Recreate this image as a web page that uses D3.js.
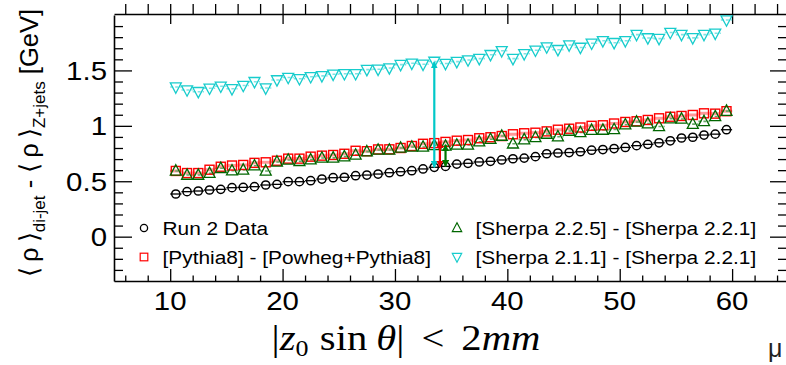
<!DOCTYPE html>
<html><head><meta charset="utf-8">
<script src="https://cdn.jsdelivr.net/npm/d3@7"></script>
<style>body{margin:0;background:#fff} svg{display:block}</style>
</head><body>
<svg id="c" width="786" height="365"></svg>
<script>
// ---- data ----
const xValues = [10.5,11.5,12.5,13.5,14.5,15.5,16.5,17.5,18.5,19.5,
  20.5,21.5,22.5,23.5,24.5,25.5,26.5,27.5,28.5,29.5,
  30.5,31.5,32.5,33.5,34.5,35.5,36.5,37.5,38.5,39.5,
  40.5,41.5,42.5,43.5,44.5,45.5,46.5,47.5,48.5,49.5,
  50.5,51.5,52.5,53.5,54.5,55.5,56.5,57.5,58.5,59.5];
const runData = [0.385,0.406,0.412,0.421,0.427,0.442,0.445,0.451,0.466,0.472,
  0.496,0.496,0.505,0.520,0.532,0.536,0.550,0.556,0.565,0.577,
  0.586,0.595,0.611,0.626,0.634,0.655,0.662,0.674,0.680,0.692,
  0.703,0.709,0.722,0.748,0.755,0.759,0.766,0.780,0.786,0.795,
  0.805,0.821,0.833,0.847,0.865,0.890,0.897,0.917,0.925,0.965];
const pythiaDiff = [0.593,0.574,0.574,0.604,0.631,0.642,0.647,0.666,0.671,0.685,
  0.704,0.704,0.722,0.731,0.737,0.748,0.775,0.771,0.787,0.788,
  0.800,0.818,0.838,0.844,0.855,0.866,0.872,0.888,0.897,0.908,
  0.924,0.933,0.938,0.950,0.965,0.974,0.985,1.000,1.005,1.021,
  1.035,1.041,1.053,1.068,1.082,1.089,1.098,1.113,1.110,1.132];
const sherpa225Diff = [0.593,0.556,0.556,0.572,0.617,0.595,0.602,0.640,0.593,0.674,
  0.692,0.680,0.695,0.710,0.711,0.722,0.737,0.767,0.782,0.782,
  0.800,0.809,0.809,0.824,0.818,0.827,0.827,0.857,0.879,0.908,
  0.838,0.876,0.895,0.926,0.902,0.953,0.940,0.961,0.962,0.967,
  1.010,1.035,1.020,0.994,1.065,1.062,1.015,1.040,1.084,1.133];
const sherpa211Diff = [1.350,1.323,1.308,1.339,1.357,1.334,1.364,1.398,1.341,1.414,
  1.436,1.425,1.443,1.451,1.465,1.470,1.470,1.507,1.510,1.522,
  1.552,1.564,1.555,1.581,1.562,1.579,1.594,1.606,1.642,1.677,
  1.606,1.650,1.682,1.711,1.687,1.729,1.707,1.745,1.767,1.750,
  1.767,1.823,1.793,1.787,1.842,1.823,1.794,1.823,1.835,1.955];
// annotation arrows: x position, lower value, upper value
const arrowX = [33.5, 34.0, 34.5];
const arrowLow = [0.626, 0.629, 0.634];
const arrowHigh = [1.575, 0.857, 0.830];
const xTicks = [10,20,30,40,50,60];
const yTicks = [0,0.5,1,1.5];
const yTickLabels = ["0","0.5","1","1.5"];
const legendLabels = ["Run 2 Data","[Pythia8] - [Powheg+Pythia8]",
  "[Sherpa 2.2.5] - [Sherpa 2.2.1]","[Sherpa 2.1.1] - [Sherpa 2.2.1]"];

// ---- setup ----
const svg = d3.select("#c");
const x = d3.scaleLinear().domain([5,65]).range([114,788.3]);
const y = d3.scaleLinear().domain([-0.4,2.0]).range([281,15]);
const SANS = "'Liberation Sans', Arial, Helvetica, sans-serif";
const SX = 1.11;

const col = {black:"#000", red:"#ff0000", green:"#006600", cyan:"#17cccc"};
const bar = {black:"#000", red:"#ff9a9a", green:"#66aa66", cyan:"#7fe3e3"};

function sText(g, px, py, str, size, anchor){
  return g.append("text")
    .attr("transform", `translate(${px},${py}) scale(${SX},1)`)
    .attr("text-anchor", anchor)
    .style("font-family", SANS).style("font-size", size+"px")
    .attr("fill","#000").text(str);
}

// ---- frame & axes ----
const minorX = d3.range(6, 65, 2).filter(v => v % 10 !== 0);
const minorY = d3.range(-0.3, 2.0, 0.1).map(v => Math.round(v*10)/10).filter(v => Math.abs(v*2 - Math.round(v*2)) > 1e-6);

svg.append("g").attr("transform","translate(0,281)")
  .call(d3.axisBottom(x).tickValues(xTicks).tickSize(-12).tickSizeOuter(0).tickFormat(""))
  .call(g => g.select(".domain").attr("stroke-width",1.6));
svg.append("g").attr("transform","translate(0,281)")
  .call(d3.axisBottom(x).tickValues(minorX).tickSize(-5.5).tickSizeOuter(0).tickFormat(""))
  .call(g => g.select(".domain").remove());
svg.append("g").attr("transform","translate(114,0)")
  .call(d3.axisLeft(y).tickValues(yTicks).tickSize(-18).tickSizeOuter(0).tickFormat(""))
  .call(g => g.select(".domain").attr("stroke-width",1.6));
svg.append("g").attr("transform","translate(114,0)")
  .call(d3.axisLeft(y).tickValues(minorY).tickSize(-9).tickSizeOuter(0).tickFormat(""))
  .call(g => g.select(".domain").remove());
svg.append("g").attr("transform","translate(787,0)")
  .call(d3.axisRight(y).tickValues(yTicks).tickSize(-17).tickSizeOuter(0).tickFormat(""))
  .call(g => g.select(".domain").remove());
svg.append("g").attr("transform","translate(787,0)")
  .call(d3.axisRight(y).tickValues(minorY).tickSize(-9).tickSizeOuter(0).tickFormat(""))
  .call(g => g.select(".domain").remove());
svg.append("g").attr("transform","translate(0,14)")
  .call(d3.axisTop(x).tickValues(minorX).tickSize(10).tickSizeOuter(0).tickFormat(""))
  .call(g => g.select(".domain").attr("stroke-width",1.6));
svg.append("g").attr("transform","translate(0,14)")
  .call(d3.axisTop(x).tickValues(xTicks).tickSizeInner(10).tickSizeOuter(0).tickFormat(""))
  .call(g => g.select(".domain").remove());
svg.append("g").attr("transform","translate(0,14)")
  .call(d3.axisBottom(x).tickValues(xTicks).tickSizeInner(10).tickSizeOuter(0).tickFormat(""))
  .call(g => g.select(".domain").remove());
svg.selectAll(".tick line").attr("stroke","#000").attr("stroke-width",1.3);

// tick labels
const lab = svg.append("g");
xTicks.forEach(v => sText(lab, x(v), 310, String(v), 26.5, "middle"));
yTicks.forEach((v,i) => sText(lab, 107, y(v)+9.5, yTickLabels[i], 26.5, "end"));

// ---- error bars & markers ----
const plot = svg.append("g");
function bars(vals, color, w, dash){
  plot.append("g").selectAll("line").data(vals).join("line")
    .attr("x1",(d,i)=>x(xValues[i]-0.5)).attr("x2",(d,i)=>x(xValues[i]+0.5))
    .attr("y1",d=>y(d)).attr("y2",d=>y(d))
    .attr("stroke",color).attr("stroke-width",w)
    .attr("stroke-dasharray", dash || null);
}
bars(pythiaDiff, bar.red, 3);
bars(sherpa225Diff, bar.green, 1.6, "3,2");
bars(sherpa211Diff, bar.cyan, 1.6, "3,2");
bars(runData, bar.black, 1.3);

const tri = (s, up) => up
  ? `M0,${-s*0.62}L${s*0.55},${s*0.42}L${-s*0.55},${s*0.42}Z`
  : `M0,${s*0.62}L${s*0.55},${-s*0.42}L${-s*0.55},${-s*0.42}Z`;

plot.append("g").selectAll("rect").data(pythiaDiff).join("rect")
  .attr("x",(d,i)=>x(xValues[i])-4.5).attr("y",d=>y(d)-4.5)
  .attr("width",9).attr("height",9)
  .attr("fill","none").attr("stroke",col.red).attr("stroke-width",1.4);
plot.append("g").selectAll("path").data(sherpa225Diff).join("path")
  .attr("transform",(d,i)=>`translate(${x(xValues[i])},${y(d)})`)
  .attr("d", tri(10, true))
  .attr("fill","none").attr("stroke",col.green).attr("stroke-width",1.3);
plot.append("g").selectAll("path").data(sherpa211Diff).join("path")
  .attr("transform",(d,i)=>`translate(${x(xValues[i])},${y(d)})`)
  .attr("d", tri(10, false))
  .attr("fill","none").attr("stroke",col.cyan).attr("stroke-width",1.3);
plot.append("g").selectAll("circle").data(runData).join("circle")
  .attr("cx",(d,i)=>x(xValues[i])).attr("cy",d=>y(d)).attr("r",4.1)
  .attr("fill","none").attr("stroke",col.black).attr("stroke-width",1.5);

// ---- arrows ----
const arrowColors = ["#00c8c8", "#ee0000", "#007700"];
const defs = svg.append("defs");
arrowColors.forEach((c,i) => {
  defs.append("marker").attr("id","ah"+i).attr("viewBox","0 0 10 10")
    .attr("refX",9).attr("refY",5).attr("markerWidth",3.2).attr("markerHeight",3.2)
    .attr("markerUnits","strokeWidth").attr("orient","auto-start-reverse")
    .append("path").attr("d","M0,0L10,5L0,10Z").attr("fill",c);
});
svg.append("g").selectAll("line").data(arrowX).join("line")
  .attr("x1",d=>x(d)).attr("x2",d=>x(d))
  .attr("y1",(d,i)=>y(arrowLow[i])).attr("y2",(d,i)=>y(arrowHigh[i]))
  .attr("stroke",(d,i)=>arrowColors[i]).attr("stroke-width",2.2)
  .attr("marker-start",(d,i)=>`url(#ah${i})`).attr("marker-end",(d,i)=>`url(#ah${i})`);

// ---- legend ----
const lg = svg.append("g");
const legX = [144, 144, 457, 457], legY = [228, 257, 228, 257];
lg.append("circle").attr("cx",legX[0]).attr("cy",legY[0]).attr("r",3.6)
  .attr("fill","none").attr("stroke","#000").attr("stroke-width",1.3);
lg.append("rect").attr("x",legX[1]-3.8).attr("y",legY[1]-3.8).attr("width",7.6).attr("height",7.6)
  .attr("fill","none").attr("stroke",col.red).attr("stroke-width",1.2);
lg.append("path").attr("transform",`translate(${legX[2]},${legY[2]})`).attr("d",tri(8.5,true))
  .attr("fill","none").attr("stroke",col.green).attr("stroke-width",1.2);
lg.append("path").attr("transform",`translate(${legX[3]},${legY[3]})`).attr("d",tri(8.5,false))
  .attr("fill","none").attr("stroke",col.cyan).attr("stroke-width",1.2);
legendLabels.forEach((t,i) => sText(lg, legX[i]+18.5, legY[i]+6.8, t, 18.8, "start"));

// ---- y title ----
const yt = svg.append("text")
  .attr("transform","translate(38,143) rotate(-90)")
  .attr("text-anchor","middle")
  .style("font-family", SANS).style("font-size","25.5px").attr("fill","#000");
yt.append("tspan").text("\u27E8\u2009\u03C1\u2009\u27E9");
yt.append("tspan").attr("dy",7).style("font-size","17px").text("di-jet");
yt.append("tspan").attr("dy",-7).text(" - \u27E8\u2009\u03C1\u2009\u27E9");
yt.append("tspan").attr("dy",7).style("font-size","17px").text("Z+jets");
yt.append("tspan").attr("dy",-7).text(" [GeV]");

// ---- x title ----
const SERIF = "'Liberation Serif', 'DejaVu Serif', serif";
const xt = svg.append("text")
  .attr("transform","translate(406,350) scale(1.13,1)")
  .attr("text-anchor","middle")
  .style("font-family", SERIF).style("font-size","36px").attr("fill","#000");
xt.append("tspan").text("|");
xt.append("tspan").style("font-style","italic").text("z");
xt.append("tspan").attr("dy",6).style("font-size","23px").text("0");
xt.append("tspan").attr("dy",-6).attr("dx",10).text("sin");
xt.append("tspan").attr("dx",8).style("font-style","italic").text("\u03B8");
xt.append("tspan").text("|");
xt.append("tspan").attr("dx",15).text("<");
xt.append("tspan").attr("dx",15).text("2");
xt.append("tspan").style("font-style","italic").text("mm");

// fragment of axis label at bottom right
svg.append("text").attr("x",768).attr("y",357)
  .style("font-family", SANS).style("font-size","25px").attr("fill","#222").text("\u03BC");
</script>
</body></html>
